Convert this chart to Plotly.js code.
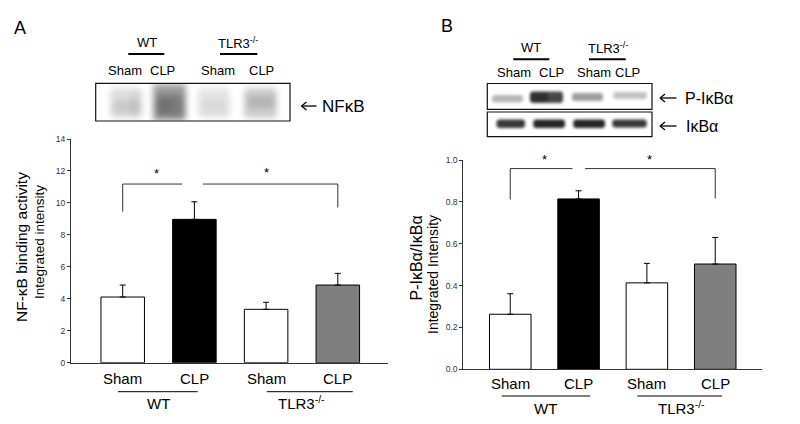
<!DOCTYPE html>
<html>
<head>
<meta charset="utf-8">
<script src="https://cdn.plot.ly/plotly-3.0.1.min.js"></script>
<style>html,body{margin:0;padding:0;background:#fff;}#chart{width:800px;height:424px;}</style>
</head>
<body>
<div id="chart"></div>
<script>
// ---------- data ----------
const categories = ['Sham', 'CLP', 'Sham', 'CLP'];
const groupLabels = ['WT', 'TLR3<sup>-/-</sup>'];
const nfkbMean = [4.11, 8.97, 3.34, 4.86];
const nfkbSem  = [0.75, 1.10, 0.44, 0.73];
const ikbMean  = [0.263, 0.814, 0.413, 0.503];
const ikbSem   = [0.098, 0.039, 0.093, 0.127];
const barColors = ['#ffffff', '#000000', '#ffffff', '#7f7f7f'];
const yTicksA = [0, 2, 4, 6, 8, 10, 12, 14];
const yTicksB = [0, 0.2, 0.4, 0.6, 0.8, 1.0];
const yTickTextB = ['0.0', '0.2', '0.4', '0.6', '0.8', '1.0'];

// ---------- helpers ----------
const W = 800, H = 424;
const px = x => x / W;
const py = y => 1 - y / H;
const FONT = 'Arial, "Liberation Sans", sans-serif';
const xIdx = categories.map((c, i) => i);

function barTrace(means, sems, xa, ya, width) {
  return {
    type: 'bar', x: xIdx, y: means, xaxis: xa, yaxis: ya, width: width,
    marker: {color: barColors, line: {color: '#000', width: 1}},
    error_y: {type: 'data', array: sems, arrayminus: sems.map(() => 0), symmetric: false,
              color: '#000', thickness: 1, width: 3},
    hoverinfo: 'skip', showlegend: false
  };
}

const data = [
  barTrace(nfkbMean, nfkbSem, 'x', 'y', 0.607),
  barTrace(ikbMean, ikbSem, 'x2', 'y2', 0.608)
];

const axLine = '#333';
const layout = {
  width: W, height: H,
  margin: {l: 0, r: 0, t: 0, b: 0},
  paper_bgcolor: '#fff', plot_bgcolor: 'rgba(0,0,0,0)',
  font: {family: FONT, color: '#000'},
  showlegend: false,
  bargap: 0,
  xaxis: {domain: [px(71), px(388)], range: [-0.721, 3.70], showline: true, linecolor: axLine, linewidth: 1,
          ticks: '', showticklabels: false, showgrid: false, zeroline: false, fixedrange: true, anchor: 'y'},
  yaxis: {domain: [py(362.7), py(139)], range: [0, 14], tickvals: yTicksA, ticks: 'outside', ticklen: 3,
          tickcolor: axLine, tickfont: {size: 8.5, color: '#333', family: FONT}, showline: true,
          linecolor: axLine, linewidth: 1, showgrid: false, zeroline: false, fixedrange: true, anchor: 'x'},
  xaxis2: {domain: [px(463.3), px(761.7)], range: [-0.687, 3.68], showline: true, linecolor: axLine, linewidth: 1,
           ticks: '', showticklabels: false, showgrid: false, zeroline: false, fixedrange: true, anchor: 'y2'},
  yaxis2: {domain: [py(369.3), py(160)], range: [0, 1.0], tickvals: yTicksB, ticktext: yTickTextB,
           ticks: 'outside', ticklen: 3, tickcolor: axLine, tickfont: {size: 8.5, color: '#333', family: FONT},
           showline: true, linecolor: axLine, linewidth: 1, showgrid: false, zeroline: false,
           fixedrange: true, anchor: 'x2'},
  shapes: [], annotations: [], images: []
};

const S = layout.shapes, A = layout.annotations;
function pline(x0, y0, x1, y1, w, c) {
  S.push({type: 'line', xref: 'paper', yref: 'paper', x0: px(x0), y0: py(y0), x1: px(x1), y1: py(y1),
          line: {color: c || '#000', width: w || 1}});
}
function dline(xa, ya, x0, y0, x1, y1, w, c) {
  S.push({type: 'line', xref: xa, yref: ya, x0: x0, y0: y0, x1: x1, y1: y1,
          line: {color: c || '#333', width: w || 1}});
}
function prect(x0, y0, x1, y1) {
  S.push({type: 'rect', xref: 'paper', yref: 'paper', x0: px(x0), y0: py(y0), x1: px(x1), y1: py(y1),
          line: {color: '#111', width: 1.2}, fillcolor: 'rgba(0,0,0,0)'});
}
function arrow(x0, x1, y) {  // left-pointing open arrow
  pline(x0, y, x1, y, 1.3);
  pline(x0, y, x0 + 5, y - 4, 1.3);
  pline(x0, y, x0 + 5, y + 4, 1.3);
}
function ptext(t, x, y, size, xanchor, extra) {
  A.push(Object.assign({text: t, xref: 'paper', yref: 'paper', x: px(x), y: py(y), showarrow: false,
          xanchor: xanchor || 'center', yanchor: 'middle', font: {size: size, color: '#000', family: FONT}}, extra || {}));
}
function dtext(t, xa, x, y, size) {
  A.push({text: t, xref: xa, yref: 'paper', x: x, y: py(y), showarrow: false,
          xanchor: 'center', yanchor: 'middle', font: {size: size, color: '#000', family: FONT}});
}

// ---------- panel letters ----------
ptext('A', 20, 28, 18);
ptext('B', 447, 26, 18);

// ---------- panel A blot ----------
ptext('WT', 146.7, 43, 13);
ptext('TLR3<sup>-/-</sup>', 238, 43, 13);
pline(128.3, 54, 164.3, 54, 2);
pline(220, 54, 257.3, 54, 2);
ptext('Sham', 125, 70, 13); ptext('CLP', 162, 70, 13);
ptext('Sham', 218, 70, 13); ptext('CLP', 261, 70, 13);
prect(95.7, 83.3, 290, 121);
arrow(301.5, 316.5, 106);
ptext('NFκB', 320, 106, 17, 'left');

// ---------- panel B blots ----------
ptext('WT', 530.7, 48, 13);
ptext('TLR3<sup>-/-</sup>', 608.3, 48, 13);
pline(513.3, 59.3, 549.3, 59.3, 2);
pline(589, 59.3, 625.7, 59.3, 2);
ptext('Sham', 514.3, 72.7, 13); ptext('CLP', 551.7, 72.7, 13);
ptext('Sham', 594, 72.7, 13); ptext('CLP', 627.7, 72.7, 13);
prect(487.3, 83.5, 652, 109.3);
prect(487.3, 112, 652, 136.7);
arrow(660, 676.5, 98);
ptext('P-IκBα', 683.3, 98.3, 16, 'left');
arrow(660, 676.5, 126);
ptext('IκBα', 684, 126.5, 16, 'left');

// blot bands as a blurred svg overlay
function r(x0, y0, x1, y1, op) {
  return `<rect x="${x0}" y="${y0}" width="${x1 - x0}" height="${y1 - y0}" rx="3" fill="#000" fill-opacity="${op}"/>`;
}
const svg = `<svg xmlns="http://www.w3.org/2000/svg" width="800" height="424" viewBox="0 0 800 424">
<defs>
<filter id="fa" x="-50%" y="-50%" width="200%" height="200%"><feGaussianBlur stdDeviation="3.2"/></filter>
<filter id="fb" x="-50%" y="-50%" width="200%" height="200%"><feGaussianBlur stdDeviation="1.8"/></filter>
<clipPath id="ca"><rect x="96.5" y="84" width="193" height="36.5"/></clipPath>
<clipPath id="cb"><rect x="488" y="84.2" width="163.3" height="24.5"/></clipPath>
<clipPath id="cc"><rect x="488" y="112.7" width="163.3" height="23.5"/></clipPath>
</defs>
<g clip-path="url(#ca)"><g filter="url(#fa)">
${r(110, 88, 142, 118, 0.13)}${r(113, 100, 140, 114, 0.09)}${r(130, 92, 141, 116, 0.05)}
${r(153, 84, 186, 121, 0.38)}${r(156, 94, 184, 117, 0.22)}${r(158, 100, 172, 112, 0.10)}
${r(198, 88, 230, 118, 0.10)}${r(201, 99, 228, 113, 0.05)}
${r(244, 88, 277, 118, 0.20)}${r(247, 96, 275, 108, 0.12)}
</g></g>
<g clip-path="url(#cb)"><g filter="url(#fb)">
${r(492, 95, 523, 102.5, 0.28)}
${r(530, 91.5, 563, 103, 0.72)}${r(530, 92.5, 548, 102, 0.35)}
${r(572, 93, 603, 101, 0.38)}
${r(613, 92, 647, 99, 0.24)}
</g></g>
<g clip-path="url(#cc)"><g filter="url(#fb)">
${r(496.5, 119.5, 525, 128, 0.78)}
${r(533.3, 119.5, 565, 128, 0.85)}
${r(573.3, 119.5, 605, 128, 0.85)}
${r(612.3, 119.5, 646.7, 127.5, 0.78)}
</g></g>
</svg>`;
layout.images.push({source: 'data:image/svg+xml;charset=utf-8,' + encodeURIComponent(svg),
  xref: 'paper', yref: 'paper', x: 0, y: 1, sizex: 1, sizey: 1, xanchor: 'left', yanchor: 'top',
  sizing: 'stretch', layer: 'above'});

// ---------- y-axis titles ----------
ptext('NF-κB binding activity', 22, 247, 15.5, 'center', {textangle: -90});
ptext('Integrated intensity', 39, 242, 13.5, 'center', {textangle: -90});
ptext('P-IκBα/IκBα', 416, 258.5, 16, 'center', {textangle: -90});
ptext('Integrated Intensity', 433, 275, 14, 'center', {textangle: -90});

// ---------- category labels ----------
categories.forEach((c, i) => { dtext(c, 'x', i, 378, 15); dtext(c, 'x2', i, 383.3, 15); });
dtext(groupLabels[0], 'x', 0.5, 403.3, 15);
dtext(groupLabels[1], 'x', 2.5, 402.5, 15);
dtext(groupLabels[0], 'x2', 0.51, 408.3, 15);
dtext(groupLabels[1], 'x2', 2.51, 407.5, 15);
S.push({type: 'line', xref: 'x', yref: 'paper', x0: -0.066, x1: 1.046, y0: py(391.7), y1: py(391.7), line: {color: '#000', width: 1}});
S.push({type: 'line', xref: 'x', yref: 'paper', x0: 2.01, x1: 3.21, y0: py(391.7), y1: py(391.7), line: {color: '#000', width: 1}});
S.push({type: 'line', xref: 'x2', yref: 'paper', x0: -0.124, x1: 1.17, y0: py(396), y1: py(396), line: {color: '#000', width: 1}});
S.push({type: 'line', xref: 'x2', yref: 'paper', x0: 1.86, x1: 3.10, y0: py(396), y1: py(396), line: {color: '#000', width: 1}});

// ---------- significance brackets ----------
dline('x', 'y', 0, 9.45, 0, 11.18); dline('x', 'y', 0, 11.18, 0.83, 11.18);
dline('x', 'y', 1.12, 11.18, 3, 11.18); dline('x', 'y', 3, 11.18, 3, 9.72);
dtext('*', 'x', 0.47, 173.5, 13); dtext('*', 'x', 2.01, 172, 13);
dline('x2', 'y2', 0, 0.811, 0, 0.959); dline('x2', 'y2', 0, 0.959, 0.91, 0.959);
dline('x2', 'y2', 1.095, 0.959, 3, 0.959); dline('x2', 'y2', 3, 0.959, 3, 0.816);
dtext('*', 'x2', 0.495, 159.5, 13); dtext('*', 'x2', 2.04, 159.5, 13);

Plotly.newPlot('chart', data, layout, {staticPlot: true, displayModeBar: false});
</script>
</body>
</html>
